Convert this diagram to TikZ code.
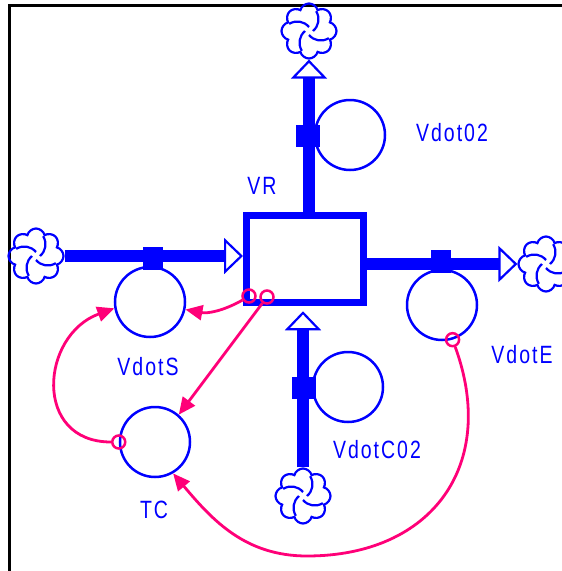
\documentclass[tikz,border=0pt]{standalone}
\usepackage{fontspec}
\newfontfamily\vsfont{Liberation Sans}[FakeStretch=0.78,LetterSpace=8]
\usetikzlibrary{shapes.symbols,arrows.meta}
\definecolor{flowblue}{RGB}{0,0,255}
\definecolor{linkpink}{RGB}{255,0,120}
\tikzset{
  stock/.style={draw=flowblue,line width=7pt,minimum width=117pt,minimum height=87.5pt,inner sep=0pt},
  pipe/.style={draw=flowblue,line width=12pt,-{Triangle[open,length=19pt,width=36pt,line width=2.2pt]}},
  valve/.style={fill=flowblue,minimum width=20pt,minimum height=23pt,inner sep=0pt},
  aux/.style={circle,draw=flowblue,line width=2.5pt,minimum size=70pt,inner sep=0pt},
  sink/.style={cloud,cloud puffs=8,aspect=1,draw=flowblue,line width=2.2pt,minimum size=55pt,inner sep=0pt,
    path picture={\foreach \a in {0,90,180,270}
      \draw[flowblue,line width=2.2pt] ([shift={(\a:4pt)}]path picture bounding box.center)
        to[bend right=40] ([shift={(\a+70:21pt)}]path picture bounding box.center);}},
  lbl/.style={text=flowblue,font=\vsfont\fontsize{25}{25}\selectfont,inner sep=0pt},
  infl/.style={draw=linkpink,line width=2.8pt,-{Triangle[length=17pt,width=15pt]}},
  tail/.style={circle,draw=linkpink,line width=2.5pt,minimum size=13pt,inner sep=0pt}
}
\begin{document}
\begin{tikzpicture}[x=1pt,y=-1pt]
	\useasboundingbox (0,0) rectangle (562,571);
	%frame
	\draw[line width=3pt] (9,571) -- (9,5) -- (562,5);
	%stock
	\node[stock] (VR) at (305,259) {};
	\node[lbl] at (262,186) {VR};
	%sources and sinks
	\node[sink] (cloudT) at (309,31) {};
	\node[sink] (cloudL) at (36,256) {};
	\node[sink] (cloudR) at (546,264) {};
	\node[sink] (cloudB) at (303,496) {};
	%flows
	\draw[pipe] (VR.north -| cloudT) -- (cloudT.south);
	\draw[pipe] (cloudL.east) -- (cloudL -| VR.west);
	\draw[pipe] (VR.east |- cloudR) -- (cloudR.west);
	\draw[pipe] (cloudB.north) -- ([yshift=-5pt]cloudB |- VR.south);
	%rates
	\node[aux] (Vdot02) at (350,135) {};
	\node[lbl] at (452,133) {Vdot02};
	\node[aux] (VdotS) at (150,302) {};
	\node[lbl] at (148,367) {VdotS};
	\node[aux] (VdotE) at (442,305) {};
	\node[lbl] at (522,355) {VdotE};
	\node[aux] (VdotC02) at (348,387) {};
	\node[lbl] at (377,450) {VdotC02};
	\node[aux] (TC) at (155,442) {};
	\node[lbl] at (154,510) {TC};
	%valves
	\node[valve,minimum width=24pt,minimum height=22pt] (valve02) at (308,136) {};
	\node[valve] (valveS) at (153,258) {};
	\node[valve] (valveE) at (441,261) {};
	\node[valve,minimum width=24pt,minimum height=22pt] (valveC02) at (304,388) {};
	%links
	\node[tail] (linkA) at (249,296) {};
	\node[tail] (linkB) at (267,297) {};
	\node[tail] (linkC) at (TC.west) {};
	\node[tail] (linkD) at (VdotE.-73) {};
	\coordinate (bottom) at (307,556);
	\draw[infl] (linkA) to[bend left=20] (VdotS.-12);
	\draw[infl] (linkB) -- (TC.49);
	\draw[infl] (linkC) to[out=180,in=200,looseness=1.5] (VdotS.190);
	\draw[infl] (linkD) to[out=-70,in=0,looseness=1.25] (bottom) to[out=180,in=-50] (TC.-60);
\end{tikzpicture}
\end{document}
